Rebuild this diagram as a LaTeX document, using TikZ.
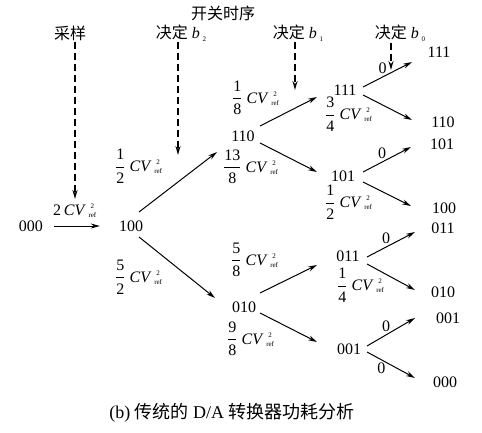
\documentclass[tikz,border=0pt]{standalone}
\usepackage{amsmath}
\usepackage{fontspec}
\setmainfont{Liberation Serif}
\newfontfamily\cjk{Noto Sans CJK SC}
\usetikzlibrary{arrows.meta,positioning}
\newcommand{\cvr}{\textit{CV}\,\raisebox{-2pt}{\scriptsize\rlap{\makebox[1.1em]{\raisebox{9pt}{2}}}ref}}
\newcommand{\fr}[2]{$\dfrac{\text{#1}}{\text{#2}}$}
\newcommand{\bsub}[1]{\textit{b}\,\raisebox{-3pt}{\scriptsize #1}}

\begin{document}
\begin{tikzpicture}[x=1pt,y=-1pt,
		every node/.style={font=\fontsize{16}{19}\selectfont,inner sep=1pt},
		arr/.style={-{Stealth[length=9pt,width=5pt]},line width=1pt},
		dasharr/.style={-{Stealth[length=9pt,width=5pt]},line width=1.6pt,dash pattern=on 7pt off 4pt},
		lbl/.style={anchor=west}]
		\useasboundingbox (0,0) rectangle (482,433);

		% top labels and dashed timing arrows
		\node (kg) at (223,13) {\cjk 开关时序};
		\node (cy) at (70,33) {\cjk 采样};
		\node (jd2) at (181,33) {{\cjk 决定}\ \bsub{2}};
		\node (jd1) at (298,33) {{\cjk 决定}\ \bsub{1}};
		\node (jd0) at (400,33) {{\cjk 决定}\ \bsub{0}};
		\coordinate (ecy) at (75,199);
		\coordinate (ejd2) at (178,155);
		\coordinate (ejd1) at (295,90);
		\coordinate (ejd0) at (391,70);
		\draw[dasharr] (cy.south -| ecy) -- (ecy);
		\draw[dasharr] (jd2.south -| ejd2) -- (ejd2);
		\draw[dasharr] (jd1.south -| ejd1) -- (ejd1);
		\draw[dasharr] (jd0.south -| ejd0) -- (ejd0);

		% states
		\node (s000) at (31,226) {000};
		\node (s100) at (131,226) {100};
		\node (s110) at (243,136) {110};
		\node (s010) at (244,307) {010};
		\node (s111) at (345,90) {111};
		\node (s101) at (343,176) {101};
		\node (s011) at (348,256) {011};
		\node (s001) at (349,349) {001};
		\node (f111) at (439,52) {111};
		\node (f110) at (443,122) {110};
		\node (f101) at (442,144) {101};
		\node (f100) at (444,208) {100};
		\node (f011) at (443,228) {011};
		\node (f010) at (443,292) {010};
		\node (f001) at (448,318) {001};
		\node (f000) at (445,382) {000};

		% transitions
		\draw[arr,shorten <=10pt,shorten >=18pt] (s000) -- (s100);
		\draw[arr] ([shift={(8,-14)}]s100.center) -- ([shift={(-26,16)}]s110.center);
		\draw[arr] ([shift={(8,11)}]s100.center) -- ([shift={(-29,-9)}]s010.center);
		\draw[arr] ([shift={(17,-10)}]s110.center) -- ([shift={(-28,7)}]s111.center);
		\draw[arr] ([shift={(17,7)}]s110.center) -- ([shift={(-26,-4)}]s101.center);
		\draw[arr] ([shift={(16,-14)}]s010.center) -- ([shift={(-31,9)}]s011.center);
		\draw[arr] ([shift={(16,6)}]s010.center) -- ([shift={(-32,-7)}]s001.center);
		\draw[arr] ([shift={(18,-3)}]s111.center) -- node[pos=.4,above=2pt] {0} ([shift={(-27,10)}]f111.center);
		\draw[arr] ([shift={(18,5)}]s111.center) -- ([shift={(-31,-2)}]f110.center);
		\draw[arr] ([shift={(20,-4)}]s101.center) -- node[pos=.4,above=2pt] {0} ([shift={(-31,3)}]f101.center);
		\draw[arr] ([shift={(20,6)}]s101.center) -- ([shift={(-33,-2)}]f100.center);
		\draw[arr] ([shift={(19,1)}]s011.center) -- node[pos=.4,above=2pt] {0} ([shift={(-28,4)}]f011.center);
		\draw[arr] ([shift={(19,8)}]s011.center) -- ([shift={(-28,-2)}]f010.center);
		\draw[arr] ([shift={(18,-3)}]s001.center) -- node[pos=.4,above=2pt] {0} ([shift={(-33,0)}]f001.center);
		\draw[arr] ([shift={(18,3)}]s001.center) -- node[pos=.3,below=2pt] {0} ([shift={(-30,-4)}]f000.center);

		% energy labels
		\node[lbl] (c0) at (52,211) {2\,\cvr};
		\node[lbl] (c1) at (114,166) {\fr12\ \cvr};
		\node[lbl] (c2) at (114,277) {\fr52\ \cvr};
		\node[lbl] (c3) at (231,98) {\fr18\ \cvr};
		\node[lbl] (c4) at (222,167) {\fr{13}8\ \cvr};
		\node[lbl] (c5) at (230,260) {\fr58\ \cvr};
		\node[lbl] (c6) at (226,339) {\fr98\ \cvr};
		\node[lbl] (c7) at (324,114) {\fr34\ \cvr};
		\node[lbl] (c8) at (324,202) {\fr12\ \cvr};
		\node[lbl] (c9) at (336,285) {\fr14\ \cvr};

		\node[font=\fontsize{18}{21}\selectfont] (cap) at (232,413) {(b)\ {\cjk 传统的}~D/A~{\cjk 转换器功耗分析}};
	\end{tikzpicture}
\end{document}
